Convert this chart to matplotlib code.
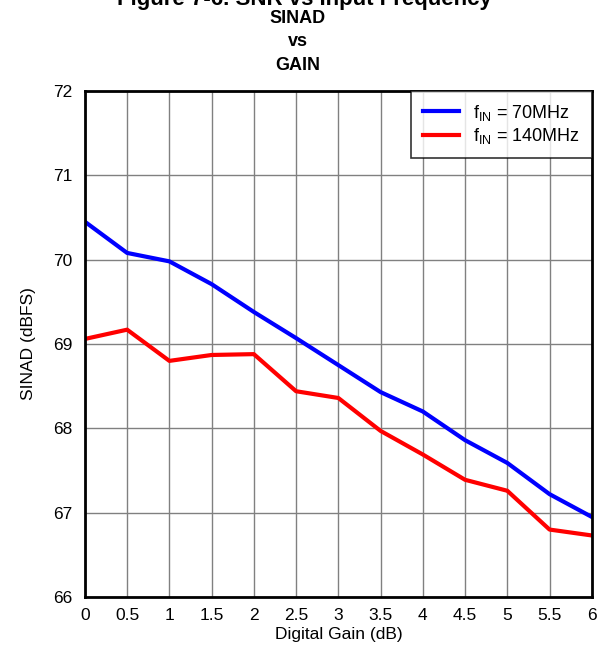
import matplotlib
matplotlib.use("Agg")
import matplotlib.pyplot as plt

plt.rcParams['font.family'] = ['Liberation Sans', 'DejaVu Sans']
plt.rcParams['mathtext.fontset'] = 'custom'
plt.rcParams['mathtext.rm'] = 'Liberation Sans'
plt.rcParams['mathtext.it'] = 'Liberation Sans'

# data
gain_db = [0, 0.5, 1, 1.5, 2, 2.5, 3, 3.5, 4, 4.5, 5, 5.5, 6]
sinad_70 = [70.45, 70.08, 69.98, 69.71, 69.38, 69.07, 68.75, 68.43, 68.2, 67.86, 67.59, 67.22, 66.95]
sinad_140 = [69.06, 69.17, 68.80, 68.87, 68.88, 68.44, 68.36, 67.97, 67.69, 67.39, 67.26, 66.80, 66.73]
x_ticks = [0, 0.5, 1, 1.5, 2, 2.5, 3, 3.5, 4, 4.5, 5, 5.5, 6]
x_labels = ['0', '0.5', '1', '1.5', '2', '2.5', '3', '3.5', '4', '4.5', '5', '5.5', '6']
y_ticks = [66, 67, 68, 69, 70, 71, 72]

fig = plt.figure(figsize=(6.02, 6.5), dpi=100)
ax = fig.add_axes([0.141, 0.0815, 0.842, 0.7785])

ax.plot(gain_db, sinad_70, color='#0000ff', lw=3, label=r'f$_{\mathrm{IN}}$ = 70MHz')
ax.plot(gain_db, sinad_140, color='#ff0000', lw=3, label=r'f$_{\mathrm{IN}}$ = 140MHz')

ax.set_xlim(0, 6)
ax.set_ylim(66, 72)
ax.set_xticks(x_ticks)
ax.set_xticklabels(x_labels)
ax.set_yticks(y_ticks)
ax.tick_params(axis='y', length=0, labelsize=12.5, pad=9)
ax.tick_params(axis='x', length=0, labelsize=12.5, pad=8)
ax.grid(True, color='#808080', lw=1)
for s in ax.spines.values():
    s.set_linewidth(2)
    s.set_zorder(5)

ax.set_xlabel('Digital Gain (dB)', fontsize=12.5, labelpad=3)
ax.set_ylabel('SINAD (dBFS)', fontsize=12.5, labelpad=12)

leg = ax.legend(loc='upper right', fontsize=13, frameon=True, fancybox=False,
                borderaxespad=0, borderpad=0.65, handlelength=2.0, handletextpad=0.8,
                labelspacing=0.2)
leg.get_frame().set_edgecolor('black')
leg.get_frame().set_linewidth(1.2)

fig.text(0.505, 1.0, 'Figure 7-6. SNR vs Input Frequency', ha='center', va='center',
         fontsize=16, fontweight='bold')
fig.text(0.495, 0.972, 'SINAD', ha='center', va='center', fontsize=13, fontweight='bold')
fig.text(0.495, 0.936, 'vs', ha='center', va='center', fontsize=13, fontweight='bold')
fig.text(0.495, 0.900, 'GAIN', ha='center', va='center', fontsize=13, fontweight='bold')

fig.savefig('out.png', dpi=100)
